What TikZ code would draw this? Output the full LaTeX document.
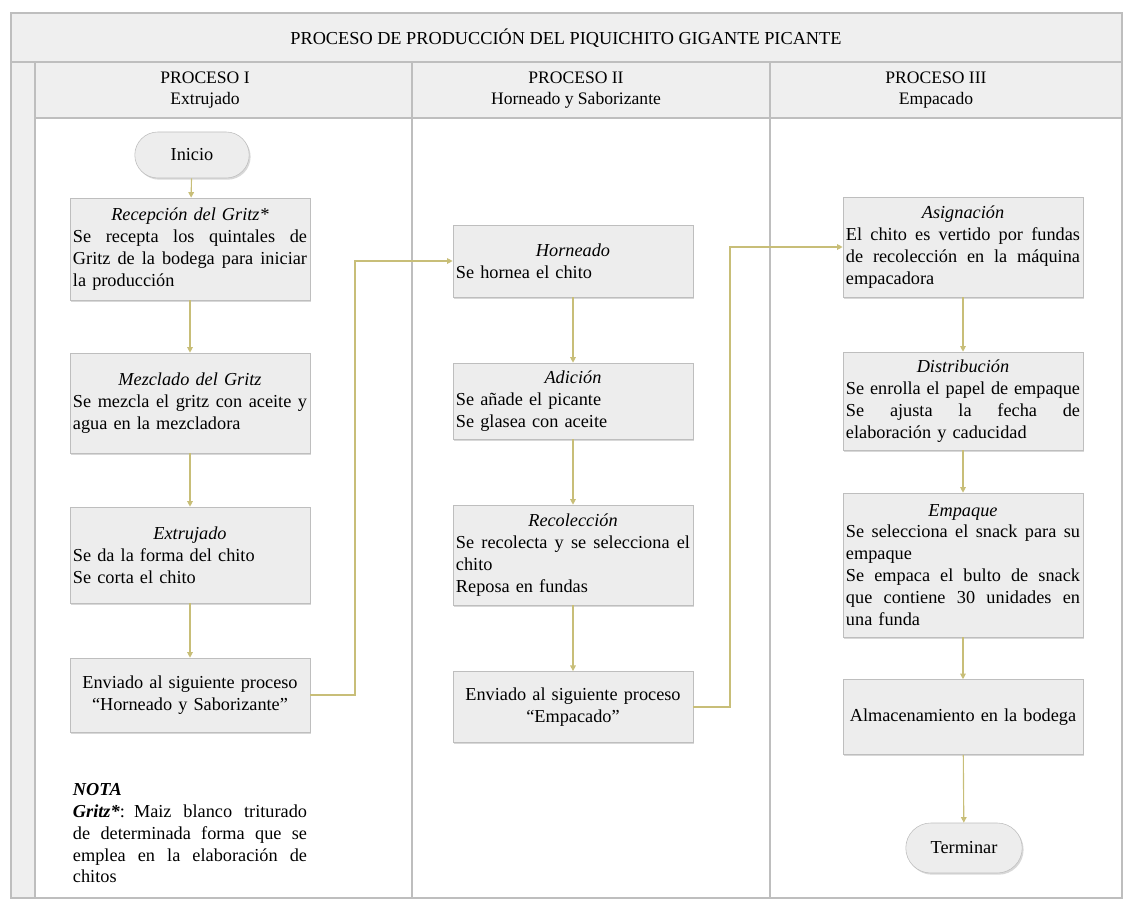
\documentclass[tikz,border=0pt]{standalone}
\usepackage{fontspec}
\setmainfont{Liberation Serif}
\usepackage{xcolor}
\usetikzlibrary{arrows.meta}
\usetikzlibrary{shapes.misc, shadows}
\usetikzlibrary{positioning}

\definecolor{lanegray}{RGB}{239,239,239}
\definecolor{linegray}{RGB}{190,190,190}
\definecolor{boxgray}{RGB}{237,237,237}
\definecolor{conncol}{RGB}{200,190,120}

% centred italic title line and a justified full line
\newcommand{\titline}[1]{\makebox[\hsize]{\textit{#1}}}
\newcommand{\jline}[1]{\makebox[\hsize][s]{\spaceskip=0.25em plus 1fil\relax #1}}

\begin{document}
\begin{tikzpicture}[
		x=0.025cm, y=-0.025cm,
		every node/.style={font=\fontsize{13}{15.6}\selectfont, inner sep=2pt},
		hdr/.style={font=\fontsize{12.5}{14.5}\selectfont, align=center},
		proc/.style={draw=linegray, fill=boxgray, minimum width=6cm, text width=5.85cm, align=left,
				drop shadow={shadow xshift=1pt, shadow yshift=-1.2pt, fill=black!30}},
		term/.style={rounded rectangle, draw=linegray, fill=boxgray, minimum width=3cm, minimum height=1.15cm,
				drop shadow={shadow xshift=1pt, shadow yshift=-1.2pt, fill=black!30}},
		conn/.style={conncol, line width=0.8pt, -{Triangle[width=4pt,length=4pt]}},
		lane/.style={draw=linegray, line width=0.8pt}
	]
	\useasboundingbox (0,0) rectangle (1127,902);

	% swimlane frame
	\fill[lanegray] (11,13) rectangle (1122,62);
	\fill[lanegray] (11,62) rectangle (35,898);
	\fill[lanegray] (35,62) rectangle (1122,118);
	\draw[lane] (11,13) rectangle (1122,898);
	\draw[lane] (11,62) -- (1122,62);
	\draw[lane] (35,118) -- (1122,118);
	\foreach \x in {35,412,770} {
			\draw[lane] (\x,62) -- (\x,898);
		}

	% titles
	\node[hdr, font=\fontsize{13}{15}\selectfont] (title) at (566,38) {PROCESO DE PRODUCCIÓN DEL PIQUICHITO GIGANTE PICANTE};
	\node[hdr] (hdrI) at (205,90) {PROCESO I\\Extrujado};
	\node[hdr] (hdrII) at (576,90) {PROCESO II\\Horneado y Saborizante};
	\node[hdr] (hdrIII) at (936,90) {PROCESO III\\Empacado};

	% proceso I
	\node[term] (inicio) at (192,155) {Inicio};
	\node[proc, minimum height=2.55cm] (recep) at (190,249) {\titline{Recepción del Gritz*}\\
		\jline{Se recepta los quintales de}\\
		\jline{Gritz de la bodega para iniciar}\\
		la producción};
	\node[proc, minimum height=2.5cm] (mezcla) at (190,403) {\titline{Mezclado del Gritz}\\
		\jline{Se mezcla el gritz con aceite y}\\
		agua en la mezcladora};
	\node[proc, minimum height=2.4cm] (extru) at (190,555) {\titline{Extrujado}\\
		Se da la forma del chito\\
		Se corta el chito};
	\node[proc, minimum height=1.85cm, align=center] (envI) at (190,695) {Enviado al siguiente proceso\\
		“Horneado y Saborizante”};
	\node[text width=5.85cm, align=left, anchor=north] (nota) at (190,780) {\textbf{\textit{NOTA}}\\
		\jline{\textbf{\textit{Gritz*}}: Maiz blanco triturado}\\
		\jline{de determinada forma que se}\\
		\jline{emplea en la elaboración de}\\
		chitos};

	% proceso II
	\node[proc, minimum height=1.8cm] (horn) at (573,261) {\titline{Horneado}\\
		Se hornea el chito};
	\node[proc, minimum height=1.9cm] (adic) at (573,401) {\titline{Adición}\\
		Se añade el picante\\
		Se glasea con aceite};
	\node[proc, minimum height=2.5cm] (recol) at (573,555) {\titline{Recolección}\\
		\jline{Se recolecta y se selecciona el}\\
		chito\\
		Reposa en fundas};
	\node[proc, minimum height=1.78cm, align=center] (envII) at (573,707) {Enviado al siguiente proceso\\
		“Empacado”};

	% proceso III
	\node[proc, minimum height=2.5cm] (asig) at (963,247) {\titline{Asignación}\\
		\jline{El chito es vertido por fundas}\\
		\jline{de recolección en la máquina}\\
		empacadora};
	\node[proc, minimum height=2.45cm] (distr) at (963,401) {\titline{Distribución}\\
		\jline{Se enrolla el papel de empaque}\\
		\jline{Se ajusta la fecha de}\\
		elaboración y caducidad};
	\node[proc, minimum height=3.6cm] (empaq) at (963,565) {\titline{Empaque}\\
		\jline{Se selecciona el snack para su}\\
		empaque\\
		\jline{Se empaca el bulto de snack}\\
		\jline{que contiene 30 unidades en}\\
		una funda};
	\node[proc, minimum height=1.875cm, align=center] (almac) at (963,717) {Almacenamiento en la bodega};
	\node[term, minimum width=3.05cm, minimum height=1.25cm] (fin) at (964,848) {Terminar};

	% connectors
	\coordinate (jI) at (355,480);
	\coordinate (jII) at (730,480);
	\draw[conn] (inicio) -- (recep);
	\draw[conn] (recep) -- (mezcla);
	\draw[conn] (mezcla) -- (extru);
	\draw[conn] (extru) -- (envI);
	\draw[conn] (envI.east) -| (jI) |- (horn.west);
	\draw[conn] (horn) -- (adic);
	\draw[conn] (adic) -- (recol);
	\draw[conn] (recol) -- (envII);
	\draw[conn] (envII.east) -| (jII) |- (asig.west);
	\draw[conn] (asig) -- (distr);
	\draw[conn] (distr) -- (empaq);
	\draw[conn] (empaq) -- (almac);
	\draw[conn] (almac) -- (fin);

\end{tikzpicture}
\end{document}
